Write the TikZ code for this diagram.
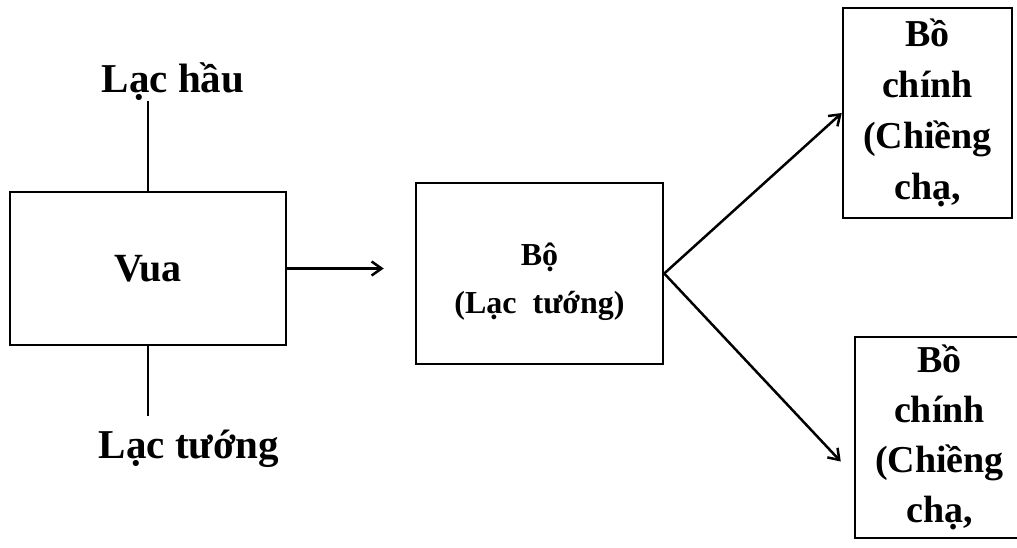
\documentclass[tikz,border=0pt]{standalone}
\usepackage{fontspec}
\setmainfont{Liberation Serif}
\usetikzlibrary{arrows.meta, positioning}
\tikzset{
    box/.style={rectangle, draw, line width=2.5pt, align=center},
    lbl/.style={inner sep=0pt, font=\fontsize{41}{46}\selectfont\bfseries},
    link/.style={line width=2.5pt},
    arrow/.style={line width=2.5pt, -{Straight Barb[length=10pt, width=14pt]}}
}

\begin{document}
\begin{tikzpicture}[x=1pt, y=-1pt]
        \useasboundingbox (0, 0) rectangle (1017, 548);

        \node (Vua_box) [box, minimum width=276, minimum height=153, font=\fontsize{40}{46}\selectfont\bfseries] at (148, 268.5) {Vua};
        \node (Bo_box) [box, minimum width=247, minimum height=181, text height=88, font=\fontsize{32}{48}\selectfont\bfseries] at (539.5, 273.5) {Bộ\\(Lạc~~tướng)};

        \node (BC1_box) [box, minimum width=169, minimum height=210, font=\fontsize{38}{51}\selectfont\bfseries] at (927.5, 113) {Bồ\\chính\\(Chiềng\\chạ,};
        \node (BC2_box) [box, minimum width=169, minimum height=201, font=\fontsize{38}{50}\selectfont\bfseries] at (939.5, 437.5) {Bồ\\chính\\(Chiềng\\chạ,};

        \node (Hau_label) [lbl, anchor=base] at (173, 93) {Lạc hầu};
        \node (Tuong_label) [lbl, anchor=base, outer ysep=14pt] at (189, 458) {Lạc tướng};

        % Connect labels
        \draw[link] (Vua_box.north) -- (Vua_box.north |- Hau_label.south);
        \draw[link] (Vua_box.south) -- (Vua_box.south |- Tuong_label.north);

        % Flow
        \draw[arrow] (Vua_box.east) -- ([xshift=-31pt]Vua_box.east -| Bo_box.west);
        \draw[arrow] (Bo_box.east) -- (BC1_box.west);
        \draw[arrow] (Bo_box.east) -- ([xshift=-13pt, yshift=-24pt]BC2_box.west);

    \end{tikzpicture}
\end{document}
